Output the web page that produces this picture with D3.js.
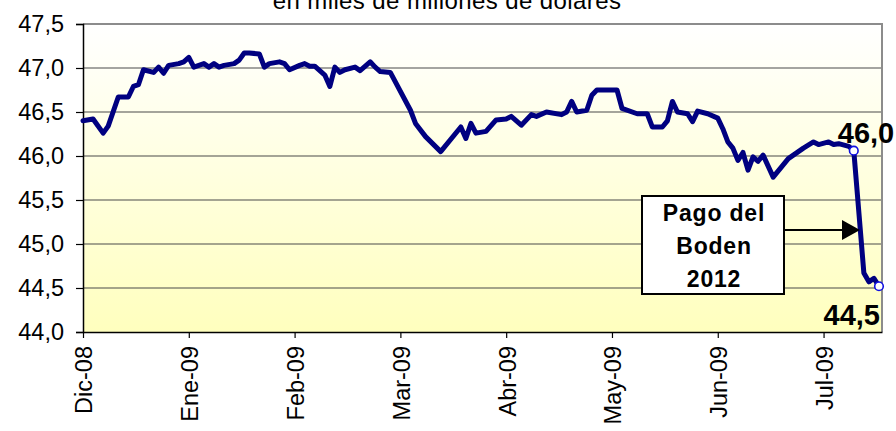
<!DOCTYPE html>
<html>
<head>
<meta charset="utf-8">
<script src="https://cdn.jsdelivr.net/npm/d3@7"></script>
<style>
  html, body { margin: 0; padding: 0; background: #ffffff; }
  svg { display: block; font-family: "Liberation Sans", Arial, sans-serif; }
</style>
</head>
<body>
<svg id="chart" width="896" height="431"></svg>
<script>
// ---- data ----
const title = "en miles de millones de dólares";
const monthLabels = ["Dic-08", "Ene-09", "Feb-09", "Mar-09", "Abr-09", "May-09", "Jun-09", "Jul-09"];
const pointsPerMonth = 21;
const lastIndex = 158.6;
const yTicks = [44.0, 44.5, 45.0, 45.5, 46.0, 46.5, 47.0, 47.5];

// trading-day index and reserves (USD billions)
const dayIndex = [
  0, 2, 4, 5, 7, 9, 10, 11, 12, 14, 15, 16, 17, 19, 20, 21, 22, 24, 25, 26, 27, 28, 30, 31, 32, 33,
  35, 36, 37, 39, 40, 41, 43, 44, 45, 46, 48, 49, 50, 51, 52, 54, 55, 57, 58, 59, 61, 65, 66, 68, 71,
  75, 76, 77, 78, 80, 82, 84, 85, 87, 89, 90, 92, 95, 96, 97, 98, 100, 101, 102, 106, 107, 110, 112,
  113, 115, 116, 117, 118, 120, 121, 122, 124, 126, 127, 128, 129, 130, 131, 132, 133, 134, 135, 137,
  140, 142, 143, 145, 146, 148, 149, 150, 152, 153, 155, 156, 157, 158
];
const reserves = [
  46.40, 46.42, 46.26, 46.34, 46.67, 46.67, 46.79, 46.81, 46.98, 46.95, 47.01, 46.94, 47.03, 47.05, 47.07, 47.12, 47.01, 47.05, 47.01, 47.05, 47.01, 47.03, 47.05, 47.09, 47.17, 47.17,
  47.16, 47.01, 47.05, 47.07, 47.05, 46.98, 47.03, 47.05, 47.02, 47.02, 46.92, 46.79, 47.01, 46.95, 46.98, 47.01, 46.97, 47.07, 47.01, 46.96, 46.95, 46.52, 46.37, 46.22, 46.05,
  46.33, 46.20, 46.37, 46.26, 46.28, 46.41, 46.42, 46.45, 46.35, 46.47, 46.45, 46.50, 46.47, 46.50, 46.62, 46.50, 46.52, 46.69, 46.75, 46.75, 46.54, 46.48, 46.48,
  46.33, 46.33, 46.40, 46.62, 46.50, 46.48, 46.39, 46.51, 46.48, 46.43, 46.31, 46.16, 46.09, 45.95, 46.04, 45.84, 45.99, 45.94, 46.01, 45.76,
  45.97, 46.05, 46.09, 46.16, 46.13, 46.16, 46.13, 46.14, 46.11, 46.06, 44.67, 44.57, 44.61, 44.52
];
const markedIndex = [153, 158];
const markedText = ["46,0", "44,5"];
const noteLines = ["Pago del", "Boden", "2012"];

// ---- layout ----
const svg = d3.select("#chart");
const plot = { left: 83, right: 882, top: 24, bottom: 332 };

const x = d3.scaleLinear().domain([0, lastIndex]).range([plot.left, plot.right]);
const y = d3.scaleLinear().domain([44, 47.5]).range([plot.bottom, plot.top]);
const fmt = d => d3.format(".1f")(d).replace(".", ",");

// background gradient
const defs = svg.append("defs");
const grad = defs.append("linearGradient").attr("id", "bg").attr("x1", 0).attr("y1", 0).attr("x2", 0).attr("y2", 1);
grad.append("stop").attr("offset", "0%").attr("stop-color", "#ffffff");
grad.append("stop").attr("offset", "100%").attr("stop-color", "#ffffbe");

svg.append("rect")
  .attr("x", plot.left).attr("y", plot.top)
  .attr("width", plot.right - plot.left).attr("height", plot.bottom - plot.top)
  .attr("fill", "url(#bg)");

// title (partly cut off at the top, as in the reference)
svg.append("text")
  .attr("x", 447).attr("y", 9)
  .attr("text-anchor", "middle")
  .attr("font-size", 24).attr("letter-spacing", 0.4)
  .attr("fill", "#000")
  .text(title);

// gridlines
svg.append("g").selectAll("line")
  .data(yTicks.filter(d => d > 44 && d < 47.5))
  .join("line")
  .attr("x1", plot.left).attr("x2", plot.right)
  .attr("y1", d => y(d)).attr("y2", d => y(d))
  .attr("stroke", "#4a4a4a").attr("stroke-width", 1.2);

// top & right border (gray)
svg.append("path")
  .attr("d", `M${plot.left},${plot.top}H${plot.right}V${plot.bottom}`)
  .attr("fill", "none").attr("stroke", "#8c8c8c").attr("stroke-width", 2);

// y axis
const yAxis = svg.append("g")
  .attr("transform", `translate(${plot.left},0)`)
  .call(d3.axisLeft(y).tickValues(yTicks).tickSize(7).tickPadding(12).tickFormat(fmt));
yAxis.select(".domain").attr("stroke", "#000").attr("stroke-width", 1.5);
yAxis.selectAll(".tick line").attr("stroke", "#000").attr("stroke-width", 1.2);
yAxis.selectAll("text").attr("font-size", 23.5).attr("fill", "#000")
  .attr("font-family", "Liberation Sans, Arial, sans-serif");

// x axis
const monthIdx = monthLabels.map((d, i) => i * pointsPerMonth);
const xAxis = svg.append("g")
  .attr("transform", `translate(0,${plot.bottom})`)
  .call(d3.axisBottom(x).tickValues(monthIdx).tickSize(6).tickSizeOuter(0).tickFormat((d, i) => monthLabels[i]));
xAxis.select(".domain").attr("stroke", "#000").attr("stroke-width", 1.5);
xAxis.selectAll(".tick line").attr("stroke", "#000").attr("stroke-width", 1.2);
xAxis.selectAll("text")
  .attr("font-size", 23.5).attr("fill", "#000")
  .attr("font-family", "Liberation Sans, Arial, sans-serif")
  .attr("transform", "rotate(-90)")
  .attr("text-anchor", "end")
  .attr("x", -14).attr("y", 0).attr("dy", "0.38em");

// line
const pts = dayIndex.map((d, i) => [d, reserves[i]]);
svg.append("path")
  .datum(pts)
  .attr("fill", "none")
  .attr("stroke", "#000080")
  .attr("stroke-width", 5)
  .attr("stroke-linejoin", "round")
  .attr("stroke-linecap", "round")
  .attr("d", d3.line().x(d => x(d[0])).y(d => y(d[1])));

// markers
const marked = markedIndex.map(idx => pts[dayIndex.indexOf(idx)]);
svg.append("g").selectAll("circle")
  .data(marked)
  .join("circle")
  .attr("cx", d => x(d[0])).attr("cy", d => y(d[1]))
  .attr("r", 4.3)
  .attr("fill", "#ffffff").attr("stroke", "#1010e0").attr("stroke-width", 1.6);

// value labels
svg.append("text")
  .attr("x", x(marked[0][0]) - 16).attr("y", y(marked[0][1]) - 8)
  .attr("font-size", 29).attr("font-weight", "bold").attr("fill", "#000")
  .text(markedText[0]);
svg.append("text")
  .attr("x", x(marked[1][0]) + 1).attr("y", y(marked[1][1]) + 39)
  .attr("text-anchor", "end")
  .attr("font-size", 29).attr("font-weight", "bold").attr("fill", "#000")
  .text(markedText[1]);

// annotation box + arrow
const box = { x: 642, y: 196, w: 142, h: 98 };
svg.append("rect")
  .attr("x", box.x).attr("y", box.y).attr("width", box.w).attr("height", box.h)
  .attr("fill", "#ffffff").attr("stroke", "#000").attr("stroke-width", 2);
svg.append("g").selectAll("text")
  .data(noteLines)
  .join("text")
  .attr("x", box.x + box.w / 2 + 1)
  .attr("y", (d, i) => 221 + i * 33)
  .attr("text-anchor", "middle")
  .attr("font-size", 23).attr("font-weight", "bold").attr("letter-spacing", 0.8)
  .attr("fill", "#000")
  .text(d => d);

const arrowY = 230;
svg.append("line")
  .attr("x1", box.x + box.w).attr("x2", 843)
  .attr("y1", arrowY).attr("y2", arrowY)
  .attr("stroke", "#000").attr("stroke-width", 2);
svg.append("path")
  .attr("d", `M842,${arrowY - 10}L860,${arrowY}L842,${arrowY + 10}Z`)
  .attr("fill", "#000");
</script>
</body>
</html>
